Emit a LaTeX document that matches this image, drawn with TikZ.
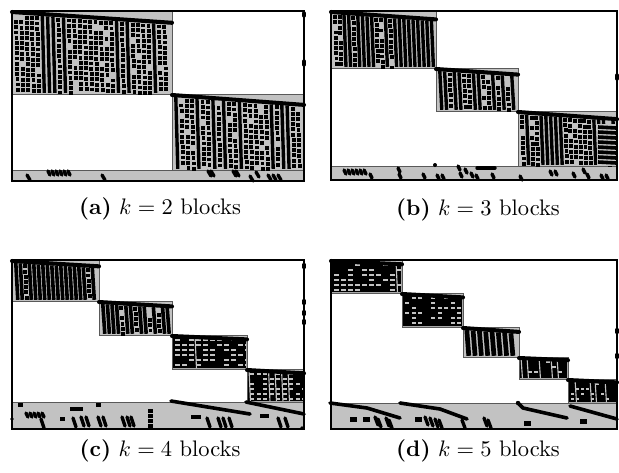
\documentclass[tikz,border=0pt]{standalone}
\usetikzlibrary{calc}
\definecolor{blkgray}{gray}{0.76}
\definecolor{edgegray}{gray}{0.35}
\tikzset{
  frm/.style={draw=black, line width=0.5pt},
  edg/.style={draw=edgegray, line width=0.35pt},
  topln/.style={line width=1.8pt, line cap=round},
  pmk/.style={line width=1.5pt, line cap=round},
  lng/.style={line width=1.6pt, line cap=round, line join=round},
  captxt/.style={anchor=base, font=\normalsize},
}
\newcommand\colblock[8]{%
  \fill[blkgray] (#1,#2) rectangle (#3,#4);
  \draw[edg] (#1,#2) rectangle (#3,#4);
  \pgfmathsetseed{#7}%
  \pgfmathsetmacro\bw{#3-#1}%
  \pgfmathsetmacro\bh{#4-#2}%
  \pgfmathsetmacro\drp{0.13*\bh}%
  \pgfmathtruncatemacro\ncol{(\bw-7)/#6}%
  \begin{scope}
  \clip (#1,#2) rectangle (#3,#4);
  \foreach \i in {0,...,\ncol}{%
    \pgfmathsetmacro\cx{#1+2+\i*#6}%
    \pgfmathsetmacro\yt{#2+3+\drp*(\cx-#1)/\bw}%
    \pgfmathsetmacro\rr{rnd}%
    \ifdim\rr pt<#5pt
      \draw[line width=#8] (\cx+1.8,\yt) -- (\cx+3.8,#4-1.2);
    \else
      \pgfmathtruncatemacro\nrow{(#4-3-\yt)/5.2}%
      \foreach \j in {0,...,\nrow}{%
        \pgfmathsetmacro\sy{\yt+0.8+\j*5.2}%
        \pgfmathsetmacro\sx{\cx+2*(\sy-\yt)/(#4-\yt)}%
        \pgfmathsetmacro\rq{rnd}%
        \ifdim\rq pt<0.9pt \fill (\sx,\sy) rectangle ++(3.9,3.9);\fi
      }%
    \fi
  }%
  \end{scope}
  \draw[topln] (#1,#2+1) -- (#3,#2+1+\drp);
}
\newcommand\gridblock[7]{%
  \fill[blkgray] (#1,#2) rectangle (#3,#4);
  \draw[edg] (#1,#2) rectangle (#3,#4);
  \pgfmathsetseed{#7}%
  \pgfmathsetmacro\bw{#3-#1}%
  \pgfmathsetmacro\bh{#4-#2}%
  \pgfmathsetmacro\drp{0.10*\bh}%
  \fill (#1+1,#2+2) -- (#3-1,#2+2+\drp) -- (#3-1,#4-1) -- (#1+1,#4-1) -- cycle;
  \pgfmathtruncatemacro\ncol{(\bw-4)/#6}%
  \pgfmathtruncatemacro\nrow{(\bh-6)/5}%
  \begin{scope}
  \clip (#1+1,#2+2) -- (#3-1,#2+2+\drp) -- (#3-1,#4-1) -- (#1+1,#4-1) -- cycle;
  \foreach \i in {0,...,\ncol}{%
    \pgfmathsetmacro\cx{#1+2+\i*#6}%
    \pgfmathsetmacro\rv{rnd}%
    \ifdim\rv pt<0.35pt \draw[blkgray, line width=0.5pt] (\cx,#2) -- (\cx+1.5,#4);\fi
    \foreach \j in {0,...,\nrow}{%
      \pgfmathsetmacro\cy{#2+4+\j*5}%
      \pgfmathsetmacro\rq{rnd}%
      \ifdim\rq pt<#5pt \fill[blkgray] (\cx+1.2,\cy) rectangle ++(#6-2.6,1.7);\fi
    }%
  }%
  \end{scope}
  \draw[topln] (#1,#2+1) -- (#3,#2+1+\drp);
}
\begin{document}
\begin{tikzpicture}[x=0.445pt,y=-0.445pt]
\useasboundingbox (0,0) rectangle (619,472);
\fill[white] (0,0) rectangle (619,472);

% ---------------- (a) ----------------
\fill[blkgray] (12,170) rectangle (304,181);
\draw[edg] (12,170) rectangle (304,181);
\colblock{12}{11}{172}{94}{0.25}{5.3}{11}{1.5pt}
\colblock{172}{94}{304}{170}{0.3}{5.3}{23}{1.5pt}
\foreach \x in {48,52,...,68} \draw[pmk] (\x,171) -- ++(2,4);
\foreach \x/\y in {27/175,102/175,208/171,211/171,233/171,236/171,250/176,256/172,268/175,273/175,278/175}
  \draw[pmk] (\x,\y) -- ++(3,5);
\draw[pmk] (304,13) -- (304,16);
\draw[pmk] (304,61) -- (304,65);
\draw[frm] (12,11) rectangle (304,181);
\node[captxt] (capa) at (160,214) {\textbf{(a)} $k=2$ blocks};

% ---------------- (b) ----------------
\fill[blkgray] (331,166) rectangle (617,180);
\draw[edg] (331,166) rectangle (617,180);
\colblock{331}{11}{436}{68}{0.65}{4.6}{37}{1.5pt}
\colblock{436}{68}{518}{111}{0.6}{4.8}{41}{1.5pt}
\colblock{518}{111}{617}{166}{0.65}{4.8}{53}{1.5pt}
\fill[blkgray] (597,124) rectangle (616.5,165.5);
\foreach \yy in {127,132,...,162} \draw[line width=1.6pt] (598,\yy) -- (616,\yy+1);
\foreach \x in {344,348,...,366} \draw[pmk] (\x,170) -- ++(2,4);
\foreach \x/\y in {370/174,398/168,399/174,423/174,437/175,442/175,458/166,460/173,465/169,471/173,476/175,492/174,520/176,550/171,555/171,573/173,583/169,587/174,601/175,606/175}
  \draw[pmk] (\x,\y) -- ++(2,4);
\draw[pmk] (477,168) -- (495,168);
\fill (435,165) circle (2);
\draw[pmk] (617,75) -- (617,79);
\draw[frm] (331,11) rectangle (617,180);
\node[captxt] (capb) at (478,215) {\textbf{(b)} $k=3$ blocks};

% ---------------- (c) ----------------
\fill[blkgray] (12,402) rectangle (304,429);
\draw[edg] (12,402) rectangle (304,429);
\colblock{12}{260}{99}{301}{0.8}{4.5}{61}{1.6pt}
\colblock{99}{301}{172}{335}{0.75}{4.6}{67}{1.6pt}
\gridblock{172}{335}{247}{369}{0.7}{7}{71}
\gridblock{247}{369}{304}{402}{0.65}{6.5}{79}
\draw[lng] (171,401) -- (250,414);
\draw[lng] (246,402) -- (304,414);
\foreach \x/\y in {20/405,62/419,98/405,193/417,198/417,262/416,266/416,150/411,150/416,150/421,150/426}
  \fill (\x-2.5,\y-2) rectangle ++(5,4);
\draw[line width=2pt] (70,409) -- (83,409);
\foreach \x in {26,30,...,42} \draw[pmk] (\x,413) -- ++(2,4);
\foreach \x/\y in {41/419,73/418,81/417,86/417,98/417,103/417,122/417,127/417,131/417,207/418,218/418,223/418,229/418,278/418,285/418}
  \draw[pmk] (\x,\y) -- ++(3,9);
\fill (12,419) circle (1.8);
\fill (302,428) circle (1.8);
\foreach \yy in {266,302,313,322} \draw[pmk] (304,\yy-1.5) -- (304,\yy+1.5);
\draw[frm] (12,260) rectangle (304,429);
\node[captxt] (capc) at (160,456) {\textbf{(c)} $k=4$ blocks};

% ---------------- (d) ----------------
\fill[blkgray] (331,403) rectangle (617,429);
\draw[edg] (331,403) rectangle (617,429);
\gridblock{331}{260}{402}{293}{0.6}{7}{83}
\gridblock{402}{293}{463}{327}{0.55}{6.5}{89}
\colblock{463}{327}{519}{357}{1.0}{6.3}{97}{2.1pt}
\gridblock{519}{357}{568}{379}{0.25}{6}{101}
\gridblock{568}{379}{617}{403}{0.3}{5}{103}
\draw[lng] (330,403) -- (367,408) -- (400,418);
\draw[lng] (400,403) -- (440,409) -- (467,419);
\fill (518,403) circle (2.2);
\draw[lng] (518,403) -- (523,408) -- (567,418);
\draw[lng] (570,406) -- (617,419);
\foreach \x/\y in {353/419,366/419,418/419,527/423,583/421}
  \fill (\x-3.5,\y-2.5) rectangle ++(7,5);
\foreach \x/\y in {375/417,378/419,386/418,389/420,425/417,430/418,435/419,439/420,462/420,484/418,488/420}
  \draw[pmk] (\x,\y) -- ++(3,8);
\foreach \yy in {331,356} \draw[pmk] (617,\yy-1.5) -- (617,\yy+1.5);
\draw[frm] (331,260) rectangle (617,429);
\node[captxt] (capd) at (478,456) {\textbf{(d)} $k=5$ blocks};
\end{tikzpicture}
\end{document}
